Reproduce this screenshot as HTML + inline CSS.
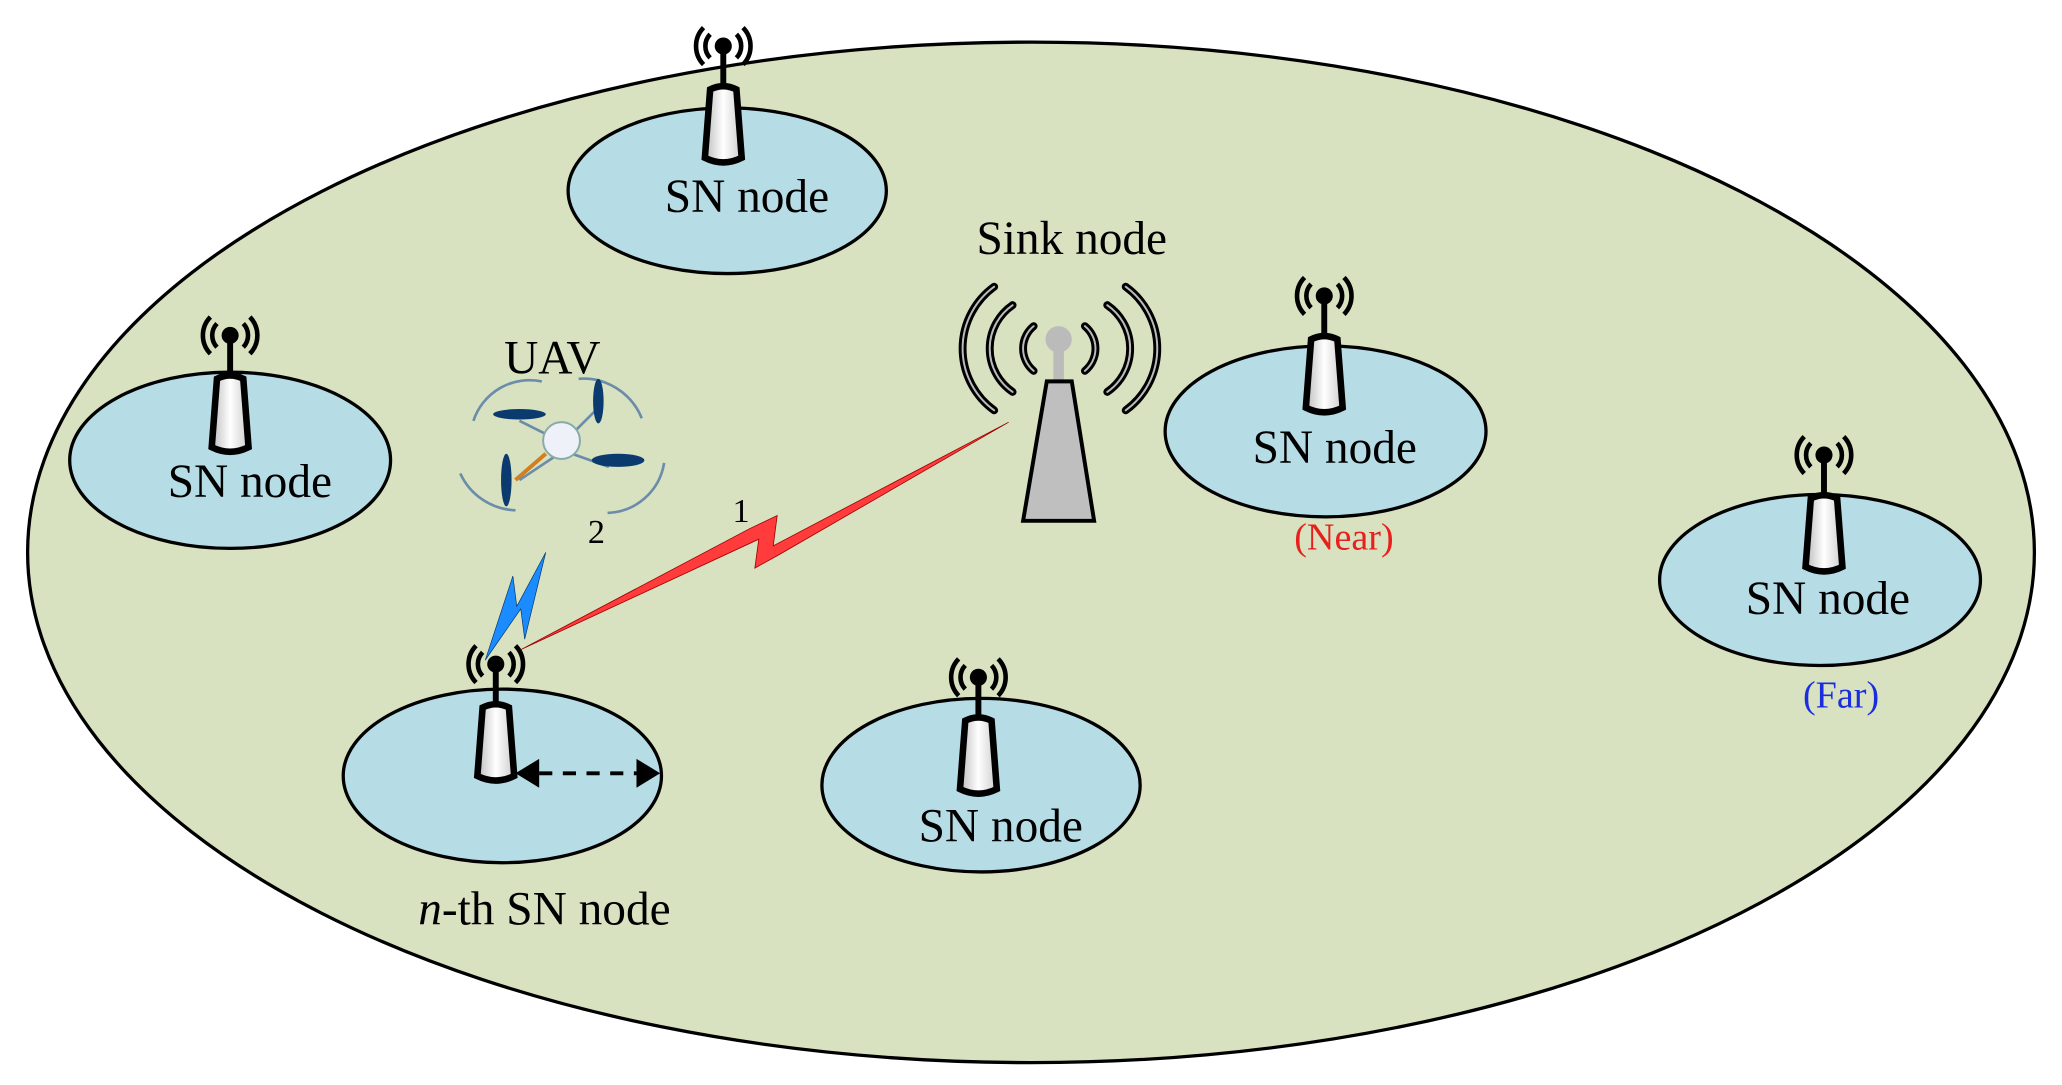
<!DOCTYPE html>
<html><head><style>html,body{margin:0;padding:0;background:#fff;}svg{display:block}</style></head>
<body>
<svg width="2062" height="1085" viewBox="0 0 1568 825" xmlns="http://www.w3.org/2000/svg" font-family="'Liberation Serif',serif">
<defs>
<linearGradient id="bg" x1="0" x2="1"><stop offset="0" stop-color="#bbb"/><stop offset="0.5" stop-color="#fff"/><stop offset="1" stop-color="#ccc"/></linearGradient>
<g id="ant">
<path d="M-10,-9 A13,13 0 0 0 -10,9 M10,-9 A13,13 0 0 1 10,9 M-15,-14 A20,20 0 0 0 -15,14 M15,-14 A20,20 0 0 1 15,14" fill="none" stroke="#000" stroke-width="3.5"/>
<circle r="6.5" fill="#000"/>
<line x1="0" y1="0" x2="0" y2="32" stroke="#000" stroke-width="4.5"/>
<path d="M-10,33 Q0,28 10,33 L14,85 Q0,92 -14,85 Z" fill="url(#bg)" stroke="#000" stroke-width="5"/>
</g>
</defs>
<rect width="1568" height="825" fill="#fff"/>
<ellipse cx="784" cy="420" rx="763" ry="388" fill="#d8e2c0" stroke="#000" stroke-width="2.5"/>
<g fill="#b6dce6" stroke="#000" stroke-width="2.5">
<ellipse cx="553" cy="145" rx="121" ry="63"/>
<ellipse cx="175" cy="350" rx="122" ry="67"/>
<ellipse cx="1008" cy="328" rx="122" ry="65"/>
<ellipse cx="1384" cy="441" rx="122" ry="65"/>
<ellipse cx="382" cy="590" rx="121" ry="66"/>
<ellipse cx="746" cy="597" rx="121" ry="66"/>
</g>
<use href="#ant" x="550" y="35"/>
<use href="#ant" x="175" y="255"/>
<use href="#ant" x="1007" y="225"/>
<use href="#ant" x="1387" y="346"/>
<use href="#ant" x="377" y="505"/>
<use href="#ant" x="744" y="515"/>
<line x1="410" y1="588" x2="484" y2="588" stroke="#000" stroke-width="3" stroke-dasharray="10,8"/>
<path d="M392,588 L410,577 L410,599 Z M502,588 L484,577 L484,599 Z" fill="#000"/>
<g fill="none" stroke="#000" stroke-width="6" stroke-linecap="round">
<path d="M786,248 A22,22 0 0 0 786,282 M825,248 A22,22 0 0 1 825,282 M770,232 A40,40 0 0 0 770,298 M842,232 A40,40 0 0 1 842,298 M756,218 A58,58 0 0 0 756,312 M856,218 A58,58 0 0 1 856,312"/>
</g>
<g fill="none" stroke="#bbb" stroke-width="1.5" stroke-linecap="round">
<path d="M786,248 A22,22 0 0 0 786,282 M825,248 A22,22 0 0 1 825,282 M770,232 A40,40 0 0 0 770,298 M842,232 A40,40 0 0 1 842,298 M756,218 A58,58 0 0 0 756,312 M856,218 A58,58 0 0 1 856,312"/>
</g>
<circle cx="805" cy="258" r="10" fill="#bbb"/>
<rect x="801" y="262" width="8" height="30" fill="#bbb"/>
<path d="M796,290 L815,290 L832,396 L778,396 Z" fill="#bfbfbf" stroke="#000" stroke-width="3"/>
<path d="M396,494 L570,402 L591,392 L588,415 L767,321 L592,422 L574,432 L577,410 Z" fill="#ff3b3b" stroke="#900" stroke-width="0.6"/>
<path d="M369,502 L390,438 L393,461 L415,420 L399,486 L396,463 Z" fill="#1a8cff" stroke="#036" stroke-width="0.5"/>
<g stroke="#6b8caa" stroke-width="2" fill="none">
<path d="M360,320 A45,45 0 0 1 412,290"/>
<path d="M440,288 A48,48 0 0 1 488,318"/>
<path d="M350,360 A48,48 0 0 0 392,388"/>
<path d="M462,390 A45,45 0 0 0 505,352"/>
<line x1="395" y1="320" x2="425" y2="335"/><line x1="455" y1="310" x2="430" y2="335"/>
<line x1="395" y1="365" x2="425" y2="345"/><line x1="463" y1="355" x2="435" y2="345"/>
</g>
<g fill="#0b3a6e">
<ellipse cx="395" cy="315" rx="20" ry="4"/>
<ellipse cx="455" cy="305" rx="4" ry="17"/>
<ellipse cx="385" cy="365" rx="4" ry="20"/>
<ellipse cx="470" cy="350" rx="20" ry="5"/>
</g>
<line x1="392" y1="365" x2="415" y2="345" stroke="#d08020" stroke-width="3"/>
<circle cx="427" cy="335" r="14" fill="#eef2f8" stroke="#8aa" stroke-width="1.5"/>
<g font-size="36" fill="#000">
<text x="568" y="161" text-anchor="middle">SN node</text>
<text x="190" y="378" text-anchor="middle">SN node</text>
<text x="1015" y="352" text-anchor="middle">SN node</text>
<text x="1390" y="467" text-anchor="middle">SN node</text>
<text x="761" y="640" text-anchor="middle">SN node</text>
<text x="414" y="703" text-anchor="middle"><tspan font-style="italic">n</tspan>-th SN node</text>
<text x="815" y="193" text-anchor="middle">Sink node</text>
<text x="420" y="284" text-anchor="middle">UAV</text>
</g>
<text x="1022" y="418" font-size="29" fill="#e8201c" text-anchor="middle">(Near)</text>
<text x="1400" y="538" font-size="29" fill="#1a2ee0" text-anchor="middle">(Far)</text>
<text x="557" y="397" font-size="26">1</text>
<text x="447" y="413" font-size="26">2</text>
</svg>
</body></html>
